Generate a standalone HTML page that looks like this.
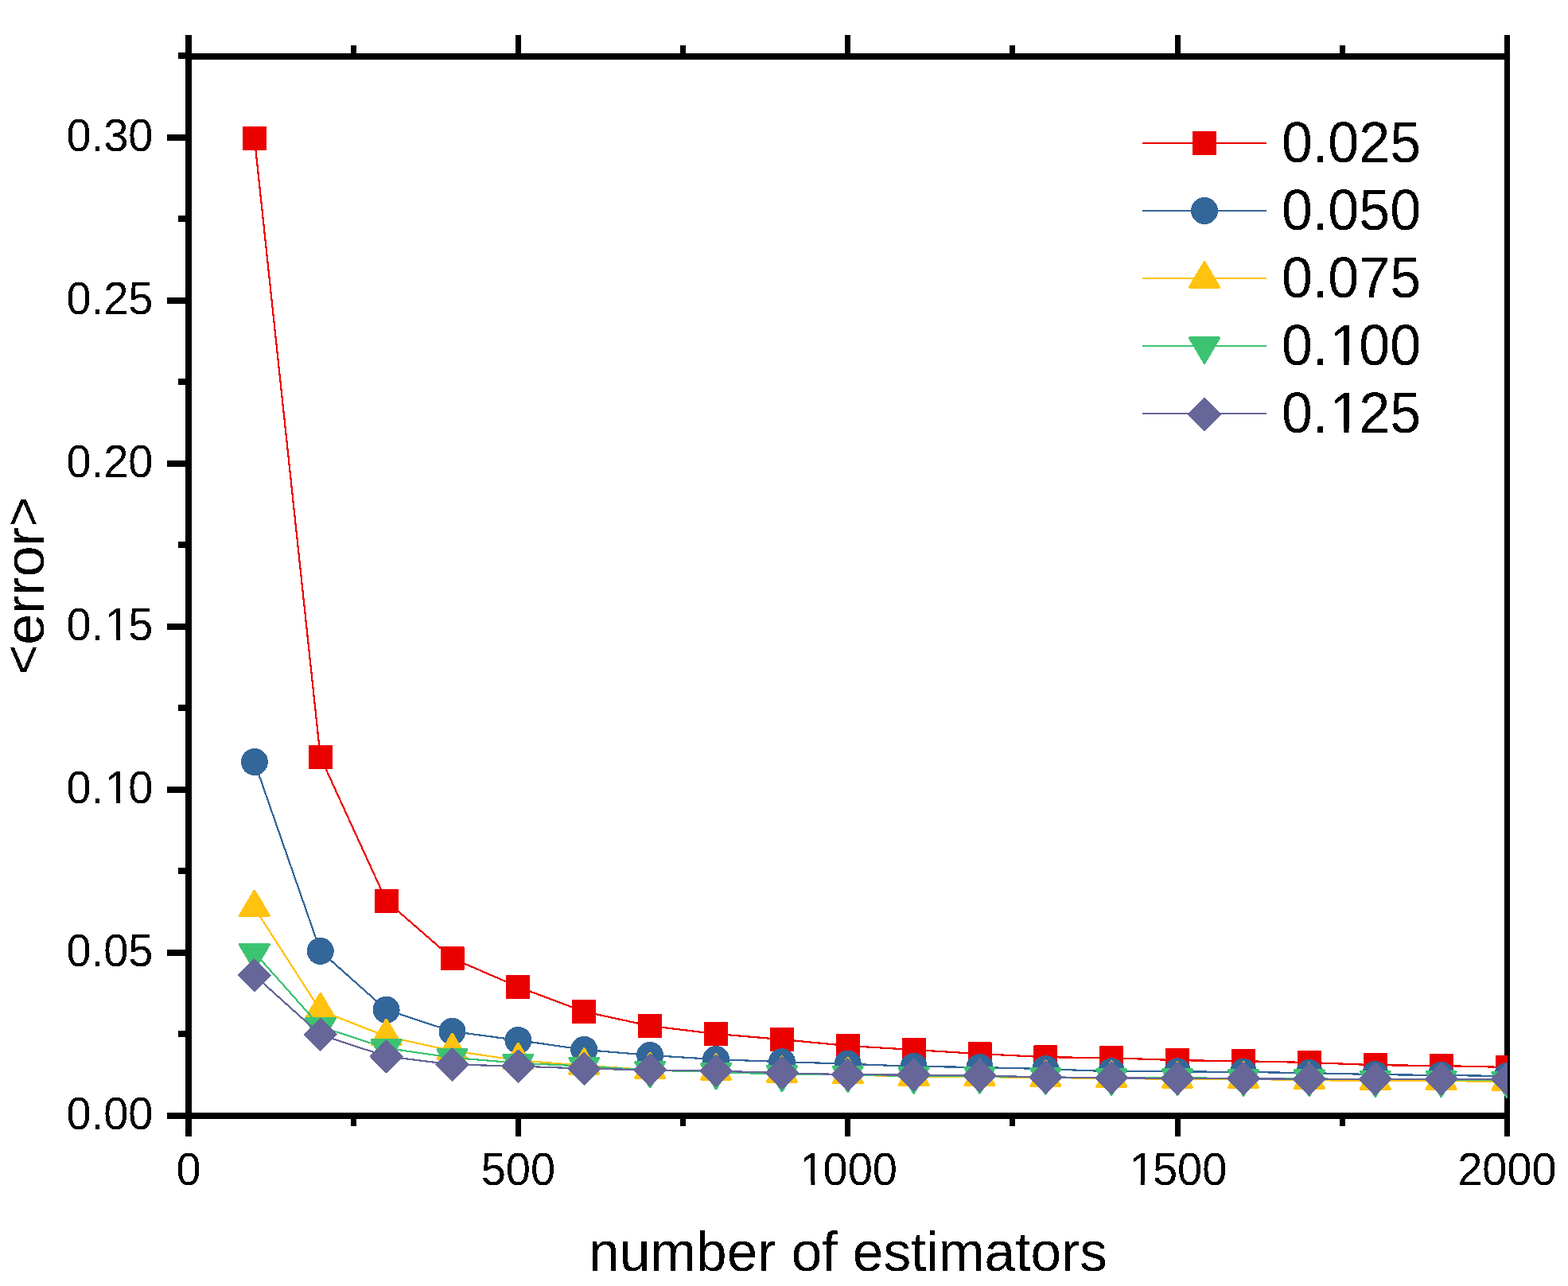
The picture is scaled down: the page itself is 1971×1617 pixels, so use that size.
<!DOCTYPE html>
<html><head><meta charset="utf-8"><title>error vs number of estimators</title>
<style>html,body{margin:0;padding:0;background:#fff;overflow:hidden;}svg{display:block;}rect,path,circle,polyline,line{shape-rendering:crispEdges;}text{font-family:"Liberation Sans",Arial,sans-serif;fill:#000;}</style></head><body>
<svg width="1971" height="1617" viewBox="0 0 1971 1617">
<rect x="0" y="0" width="1971" height="1617" fill="#fff"/>
<defs><filter id="bin" x="0" y="0" width="1971" height="1617" filterUnits="userSpaceOnUse" color-interpolation-filters="sRGB"><feComponentTransfer><feFuncA type="discrete" tableValues="0 1"/></feComponentTransfer></filter><clipPath id="pc"><rect x="237" y="71" width="1658" height="1332"/></clipPath></defs>
<g fill="#000">
<rect x="233" y="67" width="8" height="1340"/>
<rect x="1891" y="67" width="7" height="1340"/>
<rect x="233" y="67" width="1665" height="8"/>
<rect x="233" y="1399" width="1665" height="8"/>
<rect x="210" y="1399" width="23" height="8"/>
<rect x="224" y="1296.47" width="9" height="8"/>
<rect x="210" y="1193.95" width="23" height="8"/>
<rect x="224" y="1091.42" width="9" height="8"/>
<rect x="210" y="988.9" width="23" height="8"/>
<rect x="224" y="886.38" width="9" height="8"/>
<rect x="210" y="783.85" width="23" height="8"/>
<rect x="224" y="681.32" width="9" height="8"/>
<rect x="210" y="578.8" width="23" height="8"/>
<rect x="224" y="476.27" width="9" height="8"/>
<rect x="210" y="373.75" width="23" height="8"/>
<rect x="224" y="271.22" width="9" height="8"/>
<rect x="210" y="168.7" width="23" height="8"/>
<rect x="224" y="66.17" width="9" height="8"/>
<rect x="233" y="1407" width="8" height="22"/>
<rect x="233" y="44" width="8" height="23"/>
<rect x="440.69" y="1407" width="7" height="9"/>
<rect x="440.69" y="57" width="7" height="10"/>
<rect x="647.88" y="1407" width="7" height="22"/>
<rect x="647.88" y="44" width="7" height="23"/>
<rect x="855.06" y="1407" width="7" height="9"/>
<rect x="855.06" y="57" width="7" height="10"/>
<rect x="1062.25" y="1407" width="7" height="22"/>
<rect x="1062.25" y="44" width="7" height="23"/>
<rect x="1269.44" y="1407" width="7" height="9"/>
<rect x="1269.44" y="57" width="7" height="10"/>
<rect x="1476.62" y="1407" width="7" height="22"/>
<rect x="1476.62" y="44" width="7" height="23"/>
<rect x="1683.81" y="1407" width="7" height="9"/>
<rect x="1683.81" y="57" width="7" height="10"/>
<rect x="1891" y="1407" width="7" height="22"/>
<rect x="1891" y="44" width="7" height="23"/>
</g>
<g clip-path="url(#pc)">
<polyline points="319.88,174 402.75,951.9 485.62,1132.8 568.5,1205 651.38,1240.9 734.25,1272 817.12,1290 900,1300 982.88,1307 1065.75,1315 1148.62,1320 1231.5,1325.1 1314.38,1329.2 1397.25,1330.2 1480.12,1333.2 1563,1334.2 1645.88,1336 1728.75,1339.2 1811.62,1340 1894.5,1342" fill="none" stroke="#eb0000" stroke-width="2.2" stroke-linejoin="round"/>
<rect x="305.62" y="159.75" width="28.5" height="28.5" fill="#eb0000" stroke="#eb0000" stroke-width="1.5" stroke-linejoin="round"/>
<rect x="388.5" y="937.65" width="28.5" height="28.5" fill="#eb0000" stroke="#eb0000" stroke-width="1.5" stroke-linejoin="round"/>
<rect x="471.38" y="1118.55" width="28.5" height="28.5" fill="#eb0000" stroke="#eb0000" stroke-width="1.5" stroke-linejoin="round"/>
<rect x="554.25" y="1190.75" width="28.5" height="28.5" fill="#eb0000" stroke="#eb0000" stroke-width="1.5" stroke-linejoin="round"/>
<rect x="637.12" y="1226.65" width="28.5" height="28.5" fill="#eb0000" stroke="#eb0000" stroke-width="1.5" stroke-linejoin="round"/>
<rect x="720" y="1257.75" width="28.5" height="28.5" fill="#eb0000" stroke="#eb0000" stroke-width="1.5" stroke-linejoin="round"/>
<rect x="802.88" y="1275.75" width="28.5" height="28.5" fill="#eb0000" stroke="#eb0000" stroke-width="1.5" stroke-linejoin="round"/>
<rect x="885.75" y="1285.75" width="28.5" height="28.5" fill="#eb0000" stroke="#eb0000" stroke-width="1.5" stroke-linejoin="round"/>
<rect x="968.62" y="1292.75" width="28.5" height="28.5" fill="#eb0000" stroke="#eb0000" stroke-width="1.5" stroke-linejoin="round"/>
<rect x="1051.5" y="1300.75" width="28.5" height="28.5" fill="#eb0000" stroke="#eb0000" stroke-width="1.5" stroke-linejoin="round"/>
<rect x="1134.38" y="1305.75" width="28.5" height="28.5" fill="#eb0000" stroke="#eb0000" stroke-width="1.5" stroke-linejoin="round"/>
<rect x="1217.25" y="1310.85" width="28.5" height="28.5" fill="#eb0000" stroke="#eb0000" stroke-width="1.5" stroke-linejoin="round"/>
<rect x="1300.12" y="1314.95" width="28.5" height="28.5" fill="#eb0000" stroke="#eb0000" stroke-width="1.5" stroke-linejoin="round"/>
<rect x="1383" y="1315.95" width="28.5" height="28.5" fill="#eb0000" stroke="#eb0000" stroke-width="1.5" stroke-linejoin="round"/>
<rect x="1465.88" y="1318.95" width="28.5" height="28.5" fill="#eb0000" stroke="#eb0000" stroke-width="1.5" stroke-linejoin="round"/>
<rect x="1548.75" y="1319.95" width="28.5" height="28.5" fill="#eb0000" stroke="#eb0000" stroke-width="1.5" stroke-linejoin="round"/>
<rect x="1631.62" y="1321.75" width="28.5" height="28.5" fill="#eb0000" stroke="#eb0000" stroke-width="1.5" stroke-linejoin="round"/>
<rect x="1714.5" y="1324.95" width="28.5" height="28.5" fill="#eb0000" stroke="#eb0000" stroke-width="1.5" stroke-linejoin="round"/>
<rect x="1797.38" y="1325.75" width="28.5" height="28.5" fill="#eb0000" stroke="#eb0000" stroke-width="1.5" stroke-linejoin="round"/>
<rect x="1880.25" y="1327.75" width="28.5" height="28.5" fill="#eb0000" stroke="#eb0000" stroke-width="1.5" stroke-linejoin="round"/>
<polyline points="319.88,958 402.75,1195.9 485.62,1269.7 568.5,1296.9 651.38,1308 734.25,1319.9 817.12,1326.9 900,1332.1 982.88,1335.1 1065.75,1337.7 1148.62,1340.9 1231.5,1342 1314.38,1344.1 1397.25,1347.3 1480.12,1347.3 1563,1348 1645.88,1349.1 1728.75,1351.1 1811.62,1352 1894.5,1353" fill="none" stroke="#336699" stroke-width="2.2" stroke-linejoin="round"/>
<circle cx="319.88" cy="958" r="17" fill="#336699"/>
<circle cx="402.75" cy="1195.9" r="17" fill="#336699"/>
<circle cx="485.62" cy="1269.7" r="17" fill="#336699"/>
<circle cx="568.5" cy="1296.9" r="17" fill="#336699"/>
<circle cx="651.38" cy="1308" r="17" fill="#336699"/>
<circle cx="734.25" cy="1319.9" r="17" fill="#336699"/>
<circle cx="817.12" cy="1326.9" r="17" fill="#336699"/>
<circle cx="900" cy="1332.1" r="17" fill="#336699"/>
<circle cx="982.88" cy="1335.1" r="17" fill="#336699"/>
<circle cx="1065.75" cy="1337.7" r="17" fill="#336699"/>
<circle cx="1148.62" cy="1340.9" r="17" fill="#336699"/>
<circle cx="1231.5" cy="1342" r="17" fill="#336699"/>
<circle cx="1314.38" cy="1344.1" r="17" fill="#336699"/>
<circle cx="1397.25" cy="1347.3" r="17" fill="#336699"/>
<circle cx="1480.12" cy="1347.3" r="17" fill="#336699"/>
<circle cx="1563" cy="1348" r="17" fill="#336699"/>
<circle cx="1645.88" cy="1349.1" r="17" fill="#336699"/>
<circle cx="1728.75" cy="1351.1" r="17" fill="#336699"/>
<circle cx="1811.62" cy="1352" r="17" fill="#336699"/>
<circle cx="1894.5" cy="1353" r="17" fill="#336699"/>
<polyline points="319.88,1141.4 402.75,1270.6 485.62,1303.2 568.5,1321.3 651.38,1333.2 734.25,1339.9 817.12,1345.2 900,1347 982.88,1349.8 1065.75,1351.2 1148.62,1354.1 1231.5,1354.1 1314.38,1355.1 1397.25,1355.9 1480.12,1356.9 1563,1356.9 1645.88,1358.1 1728.75,1359.1 1811.62,1359.1 1894.5,1359.9" fill="none" stroke="#ffc20e" stroke-width="2.2" stroke-linejoin="round"/>
<path d="M319.88 1120.55L338.12 1151.55L301.62 1151.55Z" fill="#ffc20e" stroke="#ffc20e" stroke-width="3.5" stroke-linejoin="round"/>
<path d="M402.75 1249.75L421 1280.75L384.5 1280.75Z" fill="#ffc20e" stroke="#ffc20e" stroke-width="3.5" stroke-linejoin="round"/>
<path d="M485.62 1282.35L503.88 1313.35L467.38 1313.35Z" fill="#ffc20e" stroke="#ffc20e" stroke-width="3.5" stroke-linejoin="round"/>
<path d="M568.5 1300.45L586.75 1331.45L550.25 1331.45Z" fill="#ffc20e" stroke="#ffc20e" stroke-width="3.5" stroke-linejoin="round"/>
<path d="M651.38 1312.35L669.62 1343.35L633.12 1343.35Z" fill="#ffc20e" stroke="#ffc20e" stroke-width="3.5" stroke-linejoin="round"/>
<path d="M734.25 1319.05L752.5 1350.05L716 1350.05Z" fill="#ffc20e" stroke="#ffc20e" stroke-width="3.5" stroke-linejoin="round"/>
<path d="M817.12 1324.35L835.38 1355.35L798.88 1355.35Z" fill="#ffc20e" stroke="#ffc20e" stroke-width="3.5" stroke-linejoin="round"/>
<path d="M900 1326.15L918.25 1357.15L881.75 1357.15Z" fill="#ffc20e" stroke="#ffc20e" stroke-width="3.5" stroke-linejoin="round"/>
<path d="M982.88 1328.95L1001.12 1359.95L964.62 1359.95Z" fill="#ffc20e" stroke="#ffc20e" stroke-width="3.5" stroke-linejoin="round"/>
<path d="M1065.75 1330.35L1084 1361.35L1047.5 1361.35Z" fill="#ffc20e" stroke="#ffc20e" stroke-width="3.5" stroke-linejoin="round"/>
<path d="M1148.62 1333.25L1166.88 1364.25L1130.38 1364.25Z" fill="#ffc20e" stroke="#ffc20e" stroke-width="3.5" stroke-linejoin="round"/>
<path d="M1231.5 1333.25L1249.75 1364.25L1213.25 1364.25Z" fill="#ffc20e" stroke="#ffc20e" stroke-width="3.5" stroke-linejoin="round"/>
<path d="M1314.38 1334.25L1332.62 1365.25L1296.12 1365.25Z" fill="#ffc20e" stroke="#ffc20e" stroke-width="3.5" stroke-linejoin="round"/>
<path d="M1397.25 1335.05L1415.5 1366.05L1379 1366.05Z" fill="#ffc20e" stroke="#ffc20e" stroke-width="3.5" stroke-linejoin="round"/>
<path d="M1480.12 1336.05L1498.38 1367.05L1461.88 1367.05Z" fill="#ffc20e" stroke="#ffc20e" stroke-width="3.5" stroke-linejoin="round"/>
<path d="M1563 1336.05L1581.25 1367.05L1544.75 1367.05Z" fill="#ffc20e" stroke="#ffc20e" stroke-width="3.5" stroke-linejoin="round"/>
<path d="M1645.88 1337.25L1664.12 1368.25L1627.62 1368.25Z" fill="#ffc20e" stroke="#ffc20e" stroke-width="3.5" stroke-linejoin="round"/>
<path d="M1728.75 1338.25L1747 1369.25L1710.5 1369.25Z" fill="#ffc20e" stroke="#ffc20e" stroke-width="3.5" stroke-linejoin="round"/>
<path d="M1811.62 1338.25L1829.88 1369.25L1793.38 1369.25Z" fill="#ffc20e" stroke="#ffc20e" stroke-width="3.5" stroke-linejoin="round"/>
<path d="M1894.5 1339.05L1912.75 1370.05L1876.25 1370.05Z" fill="#ffc20e" stroke="#ffc20e" stroke-width="3.5" stroke-linejoin="round"/>
<polyline points="319.88,1197.8 402.75,1290.9 485.62,1317.9 568.5,1329.8 651.38,1336.7 734.25,1340.6 817.12,1345.7 900,1347.8 982.88,1350.9 1065.75,1351.4 1148.62,1353.1 1231.5,1353.1 1314.38,1354.3 1397.25,1355.3 1480.12,1355.3 1563,1356 1645.88,1356.3 1728.75,1357.4 1811.62,1357.4 1894.5,1358.7" fill="none" stroke="#3cc372" stroke-width="2.2" stroke-linejoin="round"/>
<path d="M301.62 1187.65L338.12 1187.65L319.88 1218.65Z" fill="#3cc372" stroke="#3cc372" stroke-width="3.5" stroke-linejoin="round"/>
<path d="M384.5 1280.75L421 1280.75L402.75 1311.75Z" fill="#3cc372" stroke="#3cc372" stroke-width="3.5" stroke-linejoin="round"/>
<path d="M467.38 1307.75L503.88 1307.75L485.62 1338.75Z" fill="#3cc372" stroke="#3cc372" stroke-width="3.5" stroke-linejoin="round"/>
<path d="M550.25 1319.65L586.75 1319.65L568.5 1350.65Z" fill="#3cc372" stroke="#3cc372" stroke-width="3.5" stroke-linejoin="round"/>
<path d="M633.12 1326.55L669.62 1326.55L651.38 1357.55Z" fill="#3cc372" stroke="#3cc372" stroke-width="3.5" stroke-linejoin="round"/>
<path d="M716 1330.45L752.5 1330.45L734.25 1361.45Z" fill="#3cc372" stroke="#3cc372" stroke-width="3.5" stroke-linejoin="round"/>
<path d="M798.88 1335.55L835.38 1335.55L817.12 1366.55Z" fill="#3cc372" stroke="#3cc372" stroke-width="3.5" stroke-linejoin="round"/>
<path d="M881.75 1337.65L918.25 1337.65L900 1368.65Z" fill="#3cc372" stroke="#3cc372" stroke-width="3.5" stroke-linejoin="round"/>
<path d="M964.62 1340.75L1001.12 1340.75L982.88 1371.75Z" fill="#3cc372" stroke="#3cc372" stroke-width="3.5" stroke-linejoin="round"/>
<path d="M1047.5 1341.25L1084 1341.25L1065.75 1372.25Z" fill="#3cc372" stroke="#3cc372" stroke-width="3.5" stroke-linejoin="round"/>
<path d="M1130.38 1342.95L1166.88 1342.95L1148.62 1373.95Z" fill="#3cc372" stroke="#3cc372" stroke-width="3.5" stroke-linejoin="round"/>
<path d="M1213.25 1342.95L1249.75 1342.95L1231.5 1373.95Z" fill="#3cc372" stroke="#3cc372" stroke-width="3.5" stroke-linejoin="round"/>
<path d="M1296.12 1344.15L1332.62 1344.15L1314.38 1375.15Z" fill="#3cc372" stroke="#3cc372" stroke-width="3.5" stroke-linejoin="round"/>
<path d="M1379 1345.15L1415.5 1345.15L1397.25 1376.15Z" fill="#3cc372" stroke="#3cc372" stroke-width="3.5" stroke-linejoin="round"/>
<path d="M1461.88 1345.15L1498.38 1345.15L1480.12 1376.15Z" fill="#3cc372" stroke="#3cc372" stroke-width="3.5" stroke-linejoin="round"/>
<path d="M1544.75 1345.85L1581.25 1345.85L1563 1376.85Z" fill="#3cc372" stroke="#3cc372" stroke-width="3.5" stroke-linejoin="round"/>
<path d="M1627.62 1346.15L1664.12 1346.15L1645.88 1377.15Z" fill="#3cc372" stroke="#3cc372" stroke-width="3.5" stroke-linejoin="round"/>
<path d="M1710.5 1347.25L1747 1347.25L1728.75 1378.25Z" fill="#3cc372" stroke="#3cc372" stroke-width="3.5" stroke-linejoin="round"/>
<path d="M1793.38 1347.25L1829.88 1347.25L1811.62 1378.25Z" fill="#3cc372" stroke="#3cc372" stroke-width="3.5" stroke-linejoin="round"/>
<path d="M1876.25 1348.55L1912.75 1348.55L1894.5 1379.55Z" fill="#3cc372" stroke="#3cc372" stroke-width="3.5" stroke-linejoin="round"/>
<polyline points="319.88,1226.4 402.75,1300.9 485.62,1328.3 568.5,1338.5 651.38,1340.6 734.25,1343.6 817.12,1345.4 900,1346.6 982.88,1349.1 1065.75,1351.2 1148.62,1351.6 1231.5,1352.6 1314.38,1354.4 1397.25,1355.4 1480.12,1355.8 1563,1356.3 1645.88,1356.8 1728.75,1356.8 1811.62,1356.8 1894.5,1357" fill="none" stroke="#666699" stroke-width="2.2" stroke-linejoin="round"/>
<path d="M319.88 1206.15L340.12 1226.4L319.88 1246.65L299.62 1226.4Z" fill="#666699" stroke="#666699" stroke-width="1.5" stroke-linejoin="round"/>
<path d="M402.75 1280.65L423 1300.9L402.75 1321.15L382.5 1300.9Z" fill="#666699" stroke="#666699" stroke-width="1.5" stroke-linejoin="round"/>
<path d="M485.62 1308.05L505.88 1328.3L485.62 1348.55L465.38 1328.3Z" fill="#666699" stroke="#666699" stroke-width="1.5" stroke-linejoin="round"/>
<path d="M568.5 1318.25L588.75 1338.5L568.5 1358.75L548.25 1338.5Z" fill="#666699" stroke="#666699" stroke-width="1.5" stroke-linejoin="round"/>
<path d="M651.38 1320.35L671.62 1340.6L651.38 1360.85L631.12 1340.6Z" fill="#666699" stroke="#666699" stroke-width="1.5" stroke-linejoin="round"/>
<path d="M734.25 1323.35L754.5 1343.6L734.25 1363.85L714 1343.6Z" fill="#666699" stroke="#666699" stroke-width="1.5" stroke-linejoin="round"/>
<path d="M817.12 1325.15L837.38 1345.4L817.12 1365.65L796.88 1345.4Z" fill="#666699" stroke="#666699" stroke-width="1.5" stroke-linejoin="round"/>
<path d="M900 1326.35L920.25 1346.6L900 1366.85L879.75 1346.6Z" fill="#666699" stroke="#666699" stroke-width="1.5" stroke-linejoin="round"/>
<path d="M982.88 1328.85L1003.12 1349.1L982.88 1369.35L962.62 1349.1Z" fill="#666699" stroke="#666699" stroke-width="1.5" stroke-linejoin="round"/>
<path d="M1065.75 1330.95L1086 1351.2L1065.75 1371.45L1045.5 1351.2Z" fill="#666699" stroke="#666699" stroke-width="1.5" stroke-linejoin="round"/>
<path d="M1148.62 1331.35L1168.88 1351.6L1148.62 1371.85L1128.38 1351.6Z" fill="#666699" stroke="#666699" stroke-width="1.5" stroke-linejoin="round"/>
<path d="M1231.5 1332.35L1251.75 1352.6L1231.5 1372.85L1211.25 1352.6Z" fill="#666699" stroke="#666699" stroke-width="1.5" stroke-linejoin="round"/>
<path d="M1314.38 1334.15L1334.62 1354.4L1314.38 1374.65L1294.12 1354.4Z" fill="#666699" stroke="#666699" stroke-width="1.5" stroke-linejoin="round"/>
<path d="M1397.25 1335.15L1417.5 1355.4L1397.25 1375.65L1377 1355.4Z" fill="#666699" stroke="#666699" stroke-width="1.5" stroke-linejoin="round"/>
<path d="M1480.12 1335.55L1500.38 1355.8L1480.12 1376.05L1459.88 1355.8Z" fill="#666699" stroke="#666699" stroke-width="1.5" stroke-linejoin="round"/>
<path d="M1563 1336.05L1583.25 1356.3L1563 1376.55L1542.75 1356.3Z" fill="#666699" stroke="#666699" stroke-width="1.5" stroke-linejoin="round"/>
<path d="M1645.88 1336.55L1666.12 1356.8L1645.88 1377.05L1625.62 1356.8Z" fill="#666699" stroke="#666699" stroke-width="1.5" stroke-linejoin="round"/>
<path d="M1728.75 1336.55L1749 1356.8L1728.75 1377.05L1708.5 1356.8Z" fill="#666699" stroke="#666699" stroke-width="1.5" stroke-linejoin="round"/>
<path d="M1811.62 1336.55L1831.88 1356.8L1811.62 1377.05L1791.38 1356.8Z" fill="#666699" stroke="#666699" stroke-width="1.5" stroke-linejoin="round"/>
<path d="M1894.5 1336.75L1914.75 1357L1894.5 1377.25L1874.25 1357Z" fill="#666699" stroke="#666699" stroke-width="1.5" stroke-linejoin="round"/>
</g>
<line x1="1436" y1="180" x2="1592" y2="180" stroke="#eb0000" stroke-width="2.5"/>
<rect x="1499.75" y="165.75" width="28.5" height="28.5" fill="#eb0000" stroke="#eb0000" stroke-width="1.5" stroke-linejoin="round"/>
<line x1="1436" y1="265" x2="1592" y2="265" stroke="#336699" stroke-width="2.5"/>
<circle cx="1514" cy="265" r="17" fill="#336699"/>
<line x1="1436" y1="350" x2="1592" y2="350" stroke="#ffc20e" stroke-width="2.5"/>
<path d="M1514 330.15L1532.25 361.15L1495.75 361.15Z" fill="#ffc20e" stroke="#ffc20e" stroke-width="3.5" stroke-linejoin="round"/>
<line x1="1436" y1="435" x2="1592" y2="435" stroke="#3cc372" stroke-width="2.5"/>
<path d="M1495.75 424.85L1532.25 424.85L1514 455.85Z" fill="#3cc372" stroke="#3cc372" stroke-width="3.5" stroke-linejoin="round"/>
<line x1="1436" y1="520" x2="1592" y2="520" stroke="#666699" stroke-width="2.5"/>
<path d="M1514 500.75L1534.25 521L1514 541.25L1493.75 521Z" fill="#666699" stroke="#666699" stroke-width="1.5" stroke-linejoin="round"/>
<g filter="url(#bin)"><text x="83.51" y="1420" font-size="56" transform="matrix(1 0 0 1.03 0 -42.6)">0.00</text><text x="83.51" y="1214.95" font-size="56" transform="matrix(1 0 0 1.03 0 -36.45)">0.05</text><text x="83.51" y="1009.9" font-size="56" transform="matrix(1 0 0 1.03 0 -30.3)">0.<tspan dx="1.86">1</tspan><tspan dx="-1.86">0</tspan></text><text x="83.51" y="804.85" font-size="56" transform="matrix(1 0 0 1.03 0 -24.15)">0.<tspan dx="1.86">1</tspan><tspan dx="-1.86">5</tspan></text><text x="83.51" y="599.8" font-size="56" transform="matrix(1 0 0 1.03 0 -17.99)">0.20</text><text x="83.51" y="394.75" font-size="56" transform="matrix(1 0 0 1.03 0 -11.84)">0.25</text><text x="83.51" y="189.7" font-size="56" transform="matrix(1 0 0 1.03 0 -5.69)">0.30</text><text x="221.43" y="1490" font-size="56" transform="matrix(1 0 0 1.03 0 -44.7)">0</text><text x="604.66" y="1490" font-size="56" transform="matrix(1 0 0 1.03 0 -44.7)">500</text><text x="1003.46" y="1490" font-size="56" transform="matrix(1 0 0 1.03 0 -44.7)"><tspan dx="1.86">1</tspan><tspan dx="-1.86">0</tspan>00</text><text x="1417.84" y="1490" font-size="56" transform="matrix(1 0 0 1.03 0 -44.7)"><tspan dx="1.86">1</tspan><tspan dx="-1.86">5</tspan>00</text><text x="1832.21" y="1490" font-size="56" transform="matrix(1 0 0 1.03 0 -44.7)">2000</text><text x="1066" y="1598" font-size="69.4" text-anchor="middle" transform="matrix(1 0 0 1.025 0 -39.95)">number of estimators</text><text transform="translate(55 737) rotate(-90)" font-size="70"><tspan x="-111.6" y="-4.25" font-size="64">&lt;</tspan><tspan x="-73.88" y="0">error</tspan><tspan x="74.6" y="-4.25" font-size="64">&gt;</tspan></text><text x="1611" y="204.5" font-size="70" transform="matrix(1 0 0 1.04 0 -8.18)">0.025</text><text x="1611" y="289.5" font-size="70" transform="matrix(1 0 0 1.04 0 -11.58)">0.050</text><text x="1611" y="374.5" font-size="70" transform="matrix(1 0 0 1.04 0 -14.98)">0.075</text><text x="1611" y="459.5" font-size="70" transform="matrix(1 0 0 1.04 0 -18.38)">0.<tspan dx="2.32">1</tspan><tspan dx="-2.32">0</tspan>0</text><text x="1611" y="544.5" font-size="70" transform="matrix(1 0 0 1.04 0 -21.78)">0.<tspan dx="2.32">1</tspan><tspan dx="-2.32">2</tspan>5</text></g>
<g fill="#fff" style="shape-rendering:geometricPrecision"><rect style="shape-rendering:geometricPrecision" x="135.54" y="1005.12" width="10.62" height="5.58"/><rect style="shape-rendering:geometricPrecision" x="151.1" y="1005.12" width="10.18" height="5.58"/><rect style="shape-rendering:geometricPrecision" x="135.54" y="800.07" width="10.62" height="5.58"/><rect style="shape-rendering:geometricPrecision" x="151.1" y="800.07" width="10.18" height="5.58"/><rect style="shape-rendering:geometricPrecision" x="1008.79" y="1485.22" width="10.62" height="5.58"/><rect style="shape-rendering:geometricPrecision" x="1024.35" y="1485.22" width="10.18" height="5.58"/><rect style="shape-rendering:geometricPrecision" x="1423.16" y="1485.22" width="10.62" height="5.58"/><rect style="shape-rendering:geometricPrecision" x="1438.73" y="1485.22" width="10.18" height="5.58"/><rect style="shape-rendering:geometricPrecision" x="1676.24" y="453.67" width="13.07" height="6.63"/><rect style="shape-rendering:geometricPrecision" x="1695.49" y="453.67" width="12.52" height="6.63"/><rect style="shape-rendering:geometricPrecision" x="1676.24" y="538.67" width="13.07" height="6.63"/><rect style="shape-rendering:geometricPrecision" x="1695.49" y="538.67" width="12.52" height="6.63"/></g>
</svg></body></html>
